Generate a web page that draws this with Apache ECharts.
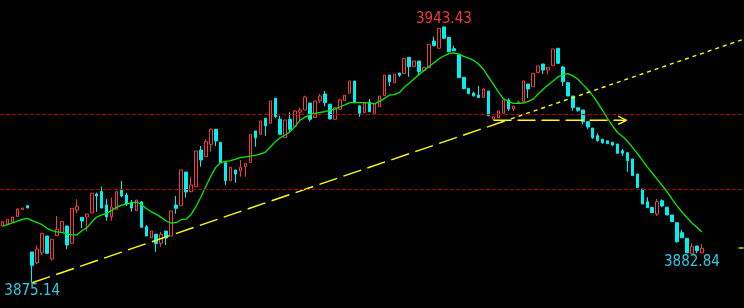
<!DOCTYPE html>
<html>
<head>
<meta charset="utf-8">
<script src="https://cdn.jsdelivr.net/npm/echarts@6/dist/echarts.min.js"></script>
<style>
html,body{margin:0;padding:0;background:#000;}
#chart{width:744px;height:308px;}
</style>
</head>
<body>
<div id="chart"></div>
<script>
// ---- data ----
const opens = [3890.26,
3890.72,3891.33,3892.80,3894.66,3895.68,3883.33,3880.48,3883.14,3887.60,3881.46,
3887.68,3888.53,3890.26,3885.65,3894.53,3892.58,3892.66,3893.73,3898.80,3899.46,
3895.86,3892.74,3894.72,3900.13,3898.53,3896.53,3894.34,3896.74,3890.08,3887.14,
3888.08,3885.65,3888.93,3887.60,3895.86,3895.68,3904.66,3899.41,3900.74,3910.53,
3908.74,3912.05,3916.05,3912.58,3907.14,3902.34,3905.20,3904.93,3906.08,3907.20,
3915.60,3914.72,3918.98,3917.65,3924.32,3918.72,3913.81,3918.72,3916.85,3920.61,
3921.20,3923.06,3919.20,3923.65,3925.46,3922.74,3918.72,3921.38,3923.68,3925.65,
3928.93,3922.32,3920.48,3923.33,3920.32,3922.08,3925.06,3930.53,3928.48,3931.06,
3930.93,3935.25,3932.74,3934.26,3931.68,3932.53,3939.60,3937.65,3943.33,3940.58,
3937.54,3935.86,3929.92,3926.98,3925.73,3925.20,3924.53,3926.26,3918.80,3919.14,
3920.32,3923.86,3921.46,3922.98,3923.41,3928.13,3927.41,3931.14,3933.46,3931.86,
3933.01,3937.65,3932.66,3928.48,3924.93,3921.78,3921.20,3918.08,3916.40,3914.34,
3913.41,3912.98,3912.61,3912.13,3910.34,3909.81,3908.13,3904.13,3900.13,3896.74,
3895.25,3893.46,3897.01,3895.25,3893.20,3891.14,3888.48,3886.98,3882.84,3884.93,
3883.05];
const closes = [3891.41,
3892.05,3892.66,3894.80,3895.06,3895.06,3879.78,3884.13,3888.32,3882.98,3886.72,
3889.38,3891.46,3885.20,3894.98,3895.41,3891.60,3893.46,3898.98,3898.26,3895.06,
3892.74,3895.33,3899.41,3898.26,3896.13,3895.06,3897.20,3889.92,3887.60,3888.93,
3885.60,3888.05,3887.06,3894.26,3894.98,3905.20,3899.33,3901.20,3910.26,3907.86,
3912.74,3916.05,3912.93,3907.14,3902.34,3905.92,3904.13,3905.92,3906.98,3914.72,
3913.81,3918.26,3917.01,3923.60,3919.41,3914.72,3918.53,3916.05,3920.93,3921.20,
3924.66,3918.72,3923.60,3924.93,3923.14,3918.80,3921.81,3923.86,3925.14,3928.93,
3923.20,3920.32,3923.06,3920.74,3922.80,3924.93,3930.53,3928.74,3930.80,3930.48,
3934.98,3932.74,3934.26,3931.41,3932.58,3938.72,3938.32,3942.98,3940.32,3936.74,
3937.01,3929.81,3926.88,3925.54,3924.98,3924.53,3926.80,3919.68,3919.41,3920.93,
3923.86,3921.46,3922.26,3923.38,3928.93,3926.80,3930.98,3932.93,3931.86,3932.58,
3937.46,3933.65,3928.74,3924.93,3921.86,3921.12,3918.08,3916.66,3913.86,3913.06,
3912.48,3912.21,3911.86,3909.65,3909.65,3907.68,3903.68,3900.48,3896.13,3895.14,
3893.81,3896.74,3895.60,3893.20,3891.41,3886.08,3887.14,3883.10,3884.74,3883.68,
3884.32];
const lows = [3890.26,
3890.72,3891.33,3892.80,3894.66,3895.06,3875.14,3880.13,3882.53,3882.98,3881.12,
3887.68,3888.53,3884.13,3885.65,3893.65,3889.73,3888.80,3893.73,3894.08,3895.06,
3891.68,3891.68,3894.72,3897.92,3895.60,3894.08,3894.34,3889.92,3887.60,3887.14,
3883.41,3884.74,3885.20,3887.60,3893.54,3895.68,3897.81,3899.41,3900.74,3906.08,
3908.74,3910.08,3911.60,3907.14,3901.20,3902.34,3901.81,3903.41,3903.41,3907.20,
3911.41,3914.72,3914.34,3917.65,3919.14,3914.72,3913.81,3915.41,3916.85,3918.53,
3921.20,3918.08,3919.20,3923.06,3922.18,3918.80,3918.72,3921.38,3923.68,3925.65,
3923.20,3919.41,3920.48,3920.74,3920.32,3922.08,3925.06,3927.60,3928.48,3930.00,
3930.93,3930.08,3932.74,3930.26,3931.68,3932.53,3938.32,3937.65,3940.32,3936.74,
3937.01,3929.81,3926.88,3925.54,3924.74,3924.53,3924.53,3919.68,3918.53,3919.14,
3920.32,3920.93,3920.93,3922.98,3923.41,3924.40,3927.41,3931.14,3930.80,3930.72,
3933.01,3933.65,3927.60,3924.93,3921.06,3920.74,3917.33,3916.08,3913.46,3912.74,
3912.21,3912.21,3911.60,3909.65,3908.93,3904.74,3903.68,3900.48,3896.13,3895.14,
3893.81,3892.93,3895.25,3893.20,3891.41,3885.81,3887.14,3883.10,3882.84,3883.00,
3883.05];
const highs = [3891.41,
3892.05,3892.66,3894.98,3895.06,3895.68,3883.33,3885.12,3888.32,3887.60,3886.72,
3892.93,3891.46,3890.26,3894.98,3897.38,3892.58,3893.46,3898.98,3899.14,3900.74,
3897.46,3897.86,3899.68,3902.26,3899.14,3897.20,3897.20,3896.74,3890.53,3888.93,
3888.08,3888.74,3888.93,3894.26,3898.26,3905.20,3904.66,3903.41,3910.26,3911.60,
3913.38,3916.32,3916.05,3912.58,3907.14,3905.92,3905.20,3907.86,3906.98,3914.72,
3915.60,3918.26,3918.98,3923.60,3924.32,3919.68,3918.53,3920.58,3921.20,3921.81,
3925.01,3923.06,3923.60,3925.46,3926.26,3922.74,3921.81,3924.21,3925.14,3928.93,
3928.93,3922.32,3923.06,3924.13,3922.80,3924.93,3930.53,3930.53,3930.80,3931.06,
3934.98,3935.25,3934.26,3934.26,3932.58,3938.72,3940.74,3942.98,3943.43,3940.58,
3938.34,3935.86,3929.92,3926.98,3926.08,3927.60,3927.14,3926.26,3919.41,3920.93,
3923.86,3924.32,3922.26,3923.73,3928.93,3928.13,3930.98,3932.93,3933.46,3932.58,
3937.46,3937.65,3932.93,3928.48,3924.93,3921.78,3921.20,3918.08,3916.40,3914.98,
3913.41,3912.98,3912.61,3912.13,3910.80,3909.81,3908.13,3904.13,3900.13,3897.92,
3895.25,3897.46,3897.38,3895.25,3893.20,3891.14,3889.20,3886.98,3885.65,3884.93,
3885.46];
const maLine = [3890.26,
3890.66,3891.12,3891.57,3892.02,3892.29,3891.68,3891.14,3890.61,3889.65,3889.01,
3888.69,3888.56,3888.08,3887.94,3887.86,3889.01,3889.76,3891.33,3892.66,3893.25,
3893.60,3894.42,3895.22,3895.81,3896.13,3896.48,3896.66,3896.00,3894.93,3894.08,
3893.38,3892.56,3891.60,3891.06,3891.14,3891.94,3892.08,3893.28,3895.41,3898.00,
3900.80,3903.52,3905.89,3907.20,3907.52,3907.70,3908.08,3908.48,3908.72,3908.90,
3909.14,3909.44,3909.94,3911.33,3912.77,3913.81,3914.53,3915.41,3916.82,3918.48,
3919.30,3919.94,3920.32,3920.53,3920.77,3921.09,3921.44,3922.00,3922.56,3923.14,
3923.14,3923.14,3923.14,3923.04,3922.82,3923.49,3924.29,3925.14,3925.28,3925.81,
3927.25,3928.34,3929.52,3930.64,3931.70,3932.77,3933.78,3934.85,3935.60,3936.24,
3936.42,3936.13,3935.49,3935.04,3934.45,3933.38,3932.00,3929.94,3928.02,3925.97,
3924.18,3923.52,3922.98,3922.98,3923.06,3923.52,3924.10,3925.46,3926.72,3927.86,
3928.96,3930.02,3930.66,3930.90,3930.29,3929.41,3928.02,3926.66,3925.01,3923.17,
3921.01,3918.93,3916.98,3915.20,3914.16,3912.85,3911.28,3909.60,3907.84,3906.05,
3904.40,3902.72,3901.06,3899.36,3897.44,3895.65,3894.00,3892.53,3891.09,3889.92,
3888.69];
// hand-drawn study lines: [candle index, price]
const supportLine = [[6, 3875.14], [102.5, 3918.83]];
const supportExt  = [[102.5, 3918.83], [149.4, 3940.07]];
const neckLine    = [[99, 3918.45], [125.8, 3918.45]];
const arrowHead   = [[124.1, 3919.60], [125.8, 3918.45], [124.1, 3917.38]];
const edgeMark    = [[148.4, 3884.40], [149.4, 3884.40]];
const gridLevels  = [3920, 3900];
const highMarkIdx = [89];
const lowMarkIdx  = [6, 139];
const slotCount   = 150;
const yMin = 3868.40, yMax = 3950.53;

// ---- chart ----
const categories = [];
for (let i = 0; i < slotCount; i++) categories.push(String(i));
const kData = opens.map((o, i) => [o, closes[i], lows[i], highs[i]]);

const RED = '#f03c3c', CYAN = '#00f0f0', LBL_CYAN = '#2ccbe8', YEL = '#ffff00';
const labelFont = "'Liberation Sans Narrow','DejaVu Sans Condensed','Roboto Condensed',Arial,sans-serif";

const markData = [];
highMarkIdx.forEach(k => markData.push({
  coord: [k, highs[k]], value: highs[k],
  label: { show: true, position: 'inside', offset: [0, -8], color: RED,
           fontSize: 15, fontFamily: labelFont, formatter: highs[k].toFixed(2) }
}));
lowMarkIdx.forEach(k => markData.push({
  coord: [k, lows[k]], value: lows[k],
  label: { show: true, position: 'inside', offset: [0, 8.5], color: LBL_CYAN,
           fontSize: 15, fontFamily: labelFont, formatter: lows[k].toFixed(2) }
}));

const chart = echarts.init(document.getElementById('chart'), null, { renderer: 'canvas' });
chart.setOption({
  backgroundColor: '#000000',
  animation: false,
  grid: { left: -3, top: 0, width: slotCount * 5, height: 308, containLabel: false },
  xAxis: [
    { type: 'category', data: categories, boundaryGap: true, show: false },
    { type: 'value', min: -0.5, max: slotCount - 0.5, show: false }
  ],
  yAxis: { type: 'value', min: yMin, max: yMax, show: false, scale: true },
  series: [
    {
      type: 'candlestick',
      data: kData,
      barWidth: 3,
      itemStyle: {
        color: '#000000', color0: CYAN,
        borderColor: RED, borderColor0: CYAN, borderWidth: 1
      },
      markPoint: { symbol: 'circle', symbolSize: 0, silent: true, data: markData }
    },
    {
      type: 'line', data: maLine, symbol: 'none', smooth: false,
      lineStyle: { color: '#00ee00', width: 1.3 },
      markLine: {
        silent: true, symbol: 'none', label: { show: false },
        lineStyle: { color: '#b00000', width: 1, type: [4, 2] },
        data: gridLevels.map(v => ({ yAxis: v }))
      },
      z: 3
    },
    {
      type: 'line', xAxisIndex: 1, data: supportLine, symbol: 'none',
      lineStyle: { color: YEL, width: 1.4, type: [18.7, 6.6] }, z: 4
    },
    {
      type: 'line', xAxisIndex: 1, data: supportExt, symbol: 'none',
      lineStyle: { color: YEL, width: 1.4, type: [4, 4] }, z: 4
    },
    {
      type: 'line', xAxisIndex: 1, data: neckLine, symbol: 'none',
      lineStyle: { color: YEL, width: 1.4, type: [18, 6] }, z: 4
    },
    {
      type: 'line', xAxisIndex: 1, data: arrowHead, symbol: 'none',
      lineStyle: { color: YEL, width: 1.3 }, z: 4
    },
    {
      type: 'line', xAxisIndex: 1, data: edgeMark, symbol: 'none',
      lineStyle: { color: YEL, width: 1.3 }, z: 4
    }
  ]
});
</script>
</body>
</html>
